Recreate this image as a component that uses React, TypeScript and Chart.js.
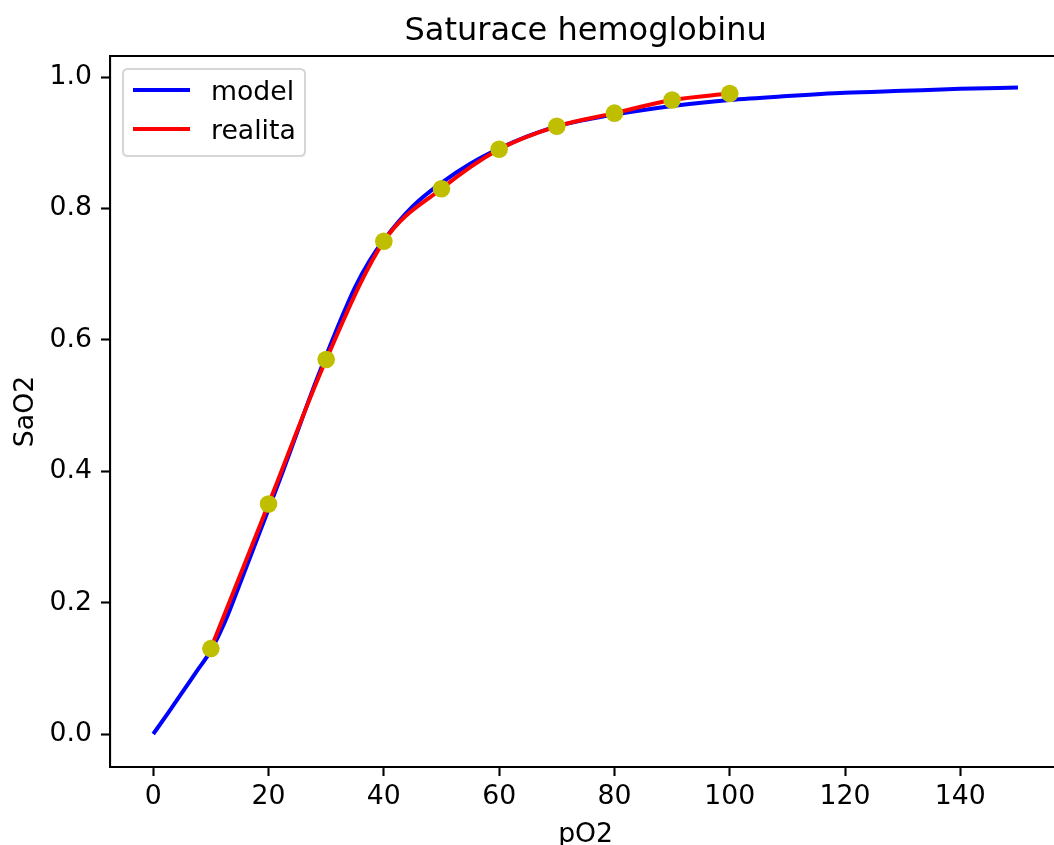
import React, { useEffect, useRef } from "react";
import { Chart, registerables } from "chart.js";

Chart.register(...registerables);

const TITLE = "Saturace hemoglobinu";
const X_LABEL = "pO2";
const Y_LABEL = "SaO2";

const modelX = [0, 2.5, 5, 7.5, 10, 12.5, 15, 17.5, 20, 22.5, 25, 27.5, 30, 32.5, 35, 37.5, 40, 45, 50, 55, 60, 65, 70, 75, 80, 90, 100, 110, 120, 130, 140, 150];
const modelY = [0, 0.031, 0.063, 0.095, 0.127, 0.172, 0.228, 0.285, 0.342, 0.4, 0.46, 0.52, 0.576, 0.63, 0.68, 0.72, 0.752, 0.803, 0.839, 0.868, 0.891, 0.91, 0.925, 0.935, 0.943, 0.956, 0.965, 0.971, 0.976, 0.979, 0.982, 0.984];

const realX = [10, 20, 30, 40, 50, 60, 70, 80, 90, 100];
const realY = [0.13, 0.35, 0.57, 0.75, 0.83, 0.89, 0.925, 0.945, 0.965, 0.975];

const xTicks = [0, 20, 40, 60, 80, 100, 120, 140];
const yTicks = [0, 0.2, 0.4, 0.6, 0.8, 1.0];

const legendLabels = ["model", "realita"];
const legendColors = ["#0000ff", "#ff0000"];

const FONT = "'DejaVu Sans', sans-serif";
const FS = 26.7;

const framePlugin = {
  id: "frame",
  afterDraw(chart: any) {
    const { ctx, chartArea } = chart;
    ctx.save();
    // top spine
    ctx.strokeStyle = "#000";
    ctx.lineWidth = 2.1;
    ctx.beginPath();
    ctx.moveTo(chartArea.left - 1, chartArea.top);
    ctx.lineTo(chartArea.right, chartArea.top);
    ctx.stroke();

    // title
    ctx.fillStyle = "#000";
    ctx.font = `32px ${FONT}`;
    ctx.textAlign = "center";
    ctx.textBaseline = "alphabetic";
    ctx.fillText(TITLE, (chartArea.left + chartArea.right) / 2, 40);

    // legend
    const bx = 123, by = 69, bw = 182, bh = 87, r = 5;
    ctx.beginPath();
    ctx.moveTo(bx + r, by);
    ctx.lineTo(bx + bw - r, by);
    ctx.quadraticCurveTo(bx + bw, by, bx + bw, by + r);
    ctx.lineTo(bx + bw, by + bh - r);
    ctx.quadraticCurveTo(bx + bw, by + bh, bx + bw - r, by + bh);
    ctx.lineTo(bx + r, by + bh);
    ctx.quadraticCurveTo(bx, by + bh, bx, by + bh - r);
    ctx.lineTo(bx, by + r);
    ctx.quadraticCurveTo(bx, by, bx + r, by);
    ctx.closePath();
    ctx.fillStyle = "rgba(255,255,255,0.8)";
    ctx.fill();
    ctx.strokeStyle = "#d6d6d6";
    ctx.lineWidth = 2;
    ctx.stroke();

    const rows = [90, 129];
    ctx.font = `${FS}px ${FONT}`;
    ctx.textBaseline = "alphabetic";
    ctx.textAlign = "left";
    legendLabels.forEach((lab, i) => {
      ctx.strokeStyle = legendColors[i];
      ctx.lineWidth = 4;
      ctx.beginPath();
      ctx.moveTo(133, rows[i]);
      ctx.lineTo(190, rows[i]);
      ctx.stroke();
      ctx.fillStyle = "#000";
      ctx.fillText(lab, 211, rows[i] + 10);
    });
    ctx.restore();
  },
};

export default function App() {
  const ref = useRef<HTMLCanvasElement | null>(null);

  useEffect(() => {
    if (!ref.current) return;
    const chart = new Chart(ref.current, {
      type: "line",
      data: {
        datasets: [
          {
            label: "points",
            data: realX.map((x, i) => ({ x, y: realY[i] })),
            showLine: false,
            pointRadius: 8.8,
            pointBackgroundColor: "#bfbf00",
            pointBorderColor: "#bfbf00",
            pointBorderWidth: 0,
            order: 0,
          },
          {
            label: "realita",
            data: realX.map((x, i) => ({ x, y: realY[i] })),
            borderColor: "#ff0000",
            borderWidth: 4,
            pointRadius: 0,
            cubicInterpolationMode: "monotone",
            fill: false,
            order: 1,
          },
          {
            label: "model",
            data: modelX.map((x, i) => ({ x, y: modelY[i] })),
            borderColor: "#0000ff",
            borderWidth: 4,
            pointRadius: 0,
            cubicInterpolationMode: "monotone",
            fill: false,
            order: 2,
          },
        ],
      },
      options: {
        animation: false,
        responsive: false,
        devicePixelRatio: 1,
        layout: { padding: { left: 0, right: 5, top: 56, bottom: 0 } },
        plugins: {
          legend: { display: false },
          tooltip: { enabled: false },
          title: { display: false },
        },
        scales: {
          x: {
            type: "linear",
            min: -7.5,
            max: 157.5,
            afterBuildTicks: (s: any) => {
              s.ticks = xTicks.map((v) => ({ value: v }));
            },
            afterFit: (s: any) => {
              s.height = 78;
            },
            ticks: {
              color: "#000",
              font: { family: FONT, size: FS },
              padding: 5,
              maxRotation: 0,
              autoSkip: false,
              callback: (v: any) => String(v),
            },
            grid: {
              drawOnChartArea: false,
              drawTicks: true,
              tickLength: 9,
              tickWidth: 2.1,
              tickColor: "#000",
            },
            border: { display: true, color: "#000", width: 2.1 },
            title: {
              display: true,
              text: X_LABEL,
              color: "#000",
              font: { family: FONT, size: FS, lineHeight: 0.72 },
              padding: { top: 0, bottom: 0 },
            },
          },
          y: {
            type: "linear",
            min: -0.0502,
            max: 1.032,
            afterBuildTicks: (s: any) => {
              s.ticks = yTicks.map((v) => ({ value: v }));
            },
            afterFit: (s: any) => {
              s.width = 110;
            },
            ticks: {
              color: "#000",
              font: { family: FONT, size: FS },
              padding: 9,
              autoSkip: false,
              callback: (v: any) => Number(v).toFixed(1),
            },
            grid: {
              drawOnChartArea: false,
              drawTicks: true,
              tickLength: 9,
              tickWidth: 2.1,
              tickColor: "#000",
            },
            border: { display: true, color: "#000", width: 2.1 },
            title: {
              display: true,
              text: Y_LABEL,
              color: "#000",
              font: { family: FONT, size: FS, lineHeight: 1.2 },
              padding: { top: 10, bottom: 0 },
            },
          },
        },
      },
      plugins: [framePlugin],
    } as any);
    return () => chart.destroy();
  }, []);

  return (
    <div
      style={{
        position: "fixed",
        left: 0,
        top: 0,
        width: 1054,
        height: 845,
        overflow: "hidden",
        background: "#fff",
      }}
    >
      <canvas ref={ref} width={1070} height={845} style={{ width: 1070, height: 845, display: "block" }} />
    </div>
  );
}
